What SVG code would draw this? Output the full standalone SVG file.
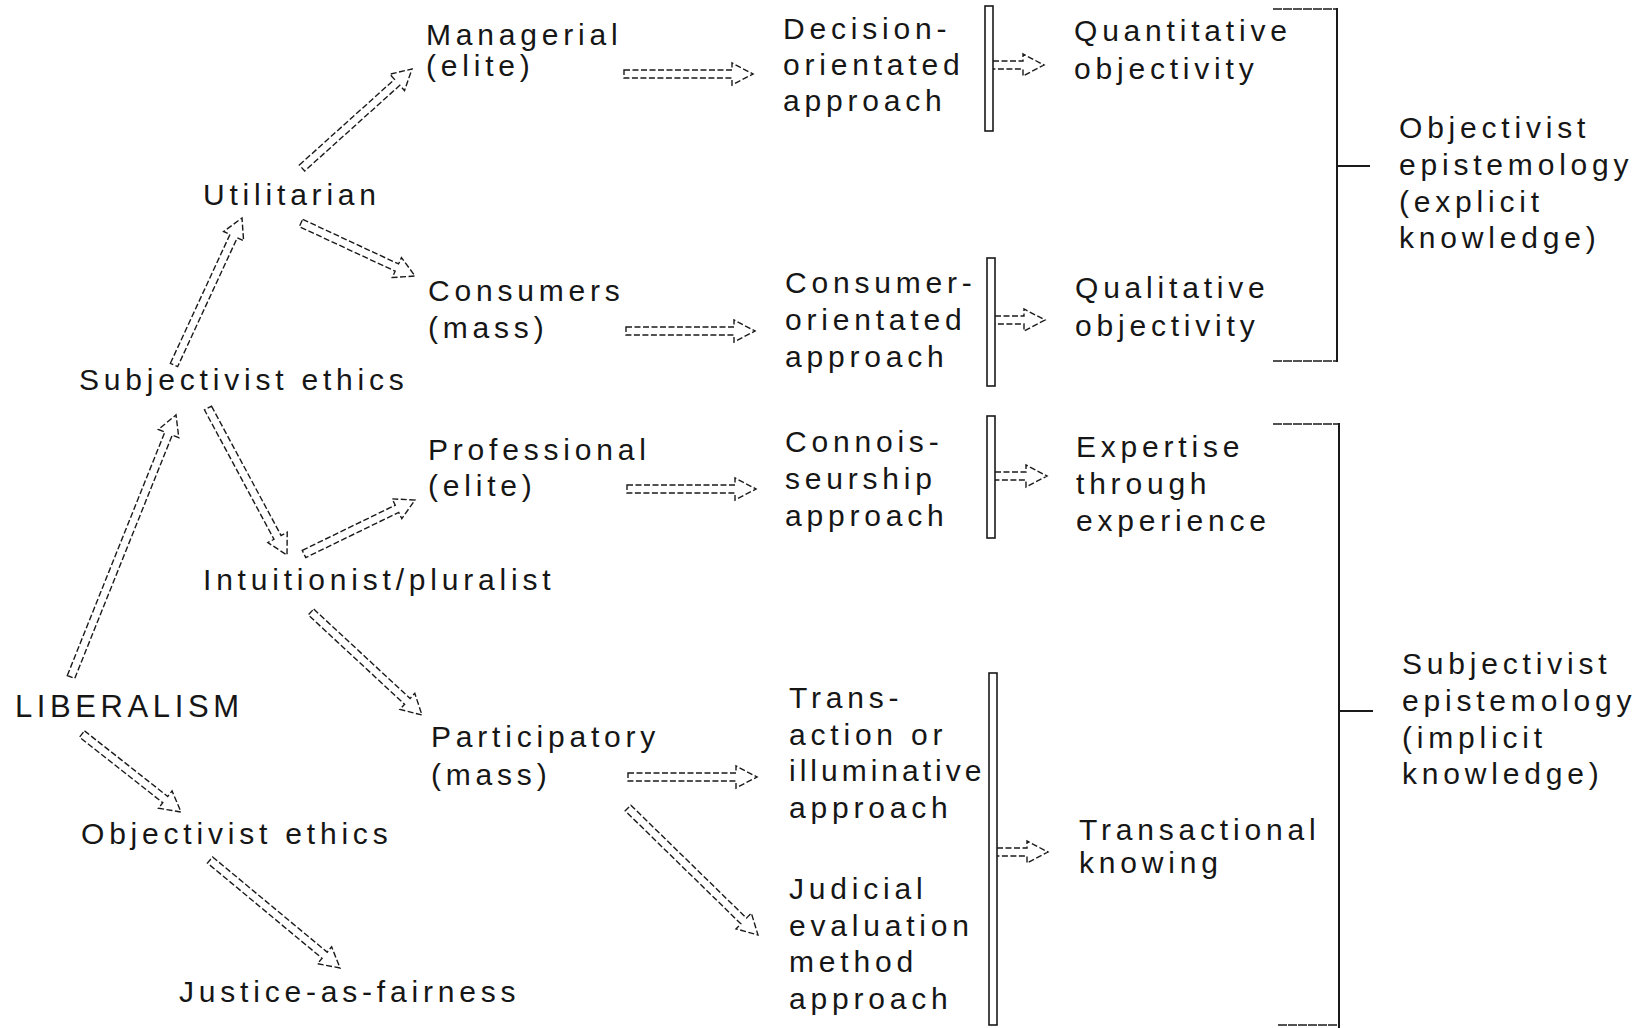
<svg xmlns="http://www.w3.org/2000/svg" width="1649" height="1028" viewBox="0 0 1649 1028">
  <style>
    text { font-family: "Liberation Sans", Arial, sans-serif; font-size: 30px; letter-spacing: 4.8px; fill: #161616; }
    .big { font-size: 31px; letter-spacing: 4.6px; }
    .tight { letter-spacing: 4px; }
    .arr { fill: none; stroke: #1a1a1a; stroke-width: 1.4; stroke-dasharray: 6 2.5; stroke-linejoin: miter; }
    .bar { fill: #fff; stroke: #1a1a1a; stroke-width: 1.6; }
    .brk { fill: none; stroke: #1a1a1a; stroke-width: 2; }
    .edge { fill: none; stroke: #1a1a1a; stroke-width: 1.6; stroke-dasharray: 9 1; }
  </style>
  <rect width="1649" height="1028" fill="#fff"/>

  <!-- nodes -->
  <g id="liberalism"><text class="big" x="15" y="717">LIBERALISM</text></g>
  <g id="subjectivist-ethics"><text x="79" y="390">Subjectivist ethics</text></g>
  <g id="objectivist-ethics"><text x="81" y="844">Objectivist ethics</text></g>
  <g id="utilitarian"><text x="203" y="205">Utilitarian</text></g>
  <g id="intuitionist"><text x="203" y="590">Intuitionist/pluralist</text></g>
  <g id="justice"><text x="179" y="1002">Justice-as-fairness</text></g>
  <g id="managerial"><text x="426" y="45">Managerial</text><text x="426" y="76">(elite)</text></g>
  <g id="consumers"><text x="428" y="301">Consumers</text><text x="428" y="338">(mass)</text></g>
  <g id="professional"><text x="428" y="460">Professional</text><text x="428" y="496">(elite)</text></g>
  <g id="participatory"><text x="431" y="747">Participatory</text><text x="431" y="785">(mass)</text></g>
  <g id="decision"><text x="783" y="39">Decision-</text><text x="783" y="75">orientated</text><text x="783" y="111">approach</text></g>
  <g id="consumer-approach"><text x="785" y="293">Consumer-</text><text x="785" y="330">orientated</text><text x="785" y="367">approach</text></g>
  <g id="connoisseurship"><text x="785" y="452">Connois-</text><text x="785" y="489">seurship</text><text x="785" y="526">approach</text></g>
  <g id="transaction"><text x="789" y="708">Trans-</text><text x="789" y="745">action or</text><text class="tight" x="789" y="781">illuminative</text><text x="789" y="818">approach</text></g>
  <g id="judicial"><text x="789" y="899">Judicial</text><text x="789" y="936">evaluation</text><text x="789" y="972">method</text><text x="789" y="1009">approach</text></g>
  <g id="quantitative"><text x="1074" y="41">Quantitative</text><text x="1074" y="79">objectivity</text></g>
  <g id="qualitative"><text x="1075" y="298">Qualitative</text><text x="1075" y="336">objectivity</text></g>
  <g id="expertise"><text x="1076" y="457">Expertise</text><text x="1076" y="494">through</text><text x="1076" y="531">experience</text></g>
  <g id="transactional"><text x="1079" y="840">Transactional</text><text x="1079" y="873">knowing</text></g>
  <g id="objectivist-epistemology"><text x="1399" y="138">Objectivist</text><text x="1399" y="175">epistemology</text><text x="1399" y="212">(explicit</text><text x="1399" y="248">knowledge)</text></g>
  <g id="subjectivist-epistemology"><text x="1402" y="674">Subjectivist</text><text x="1402" y="711">epistemology</text><text x="1402" y="748">(implicit</text><text x="1402" y="784">knowledge)</text></g>

  <!-- connectors -->
  <g id="connectors">
    <!-- hollow dashed arrows, drawn along +x then placed -->
    <path class="arr" transform="translate(302 168) rotate(-41.99)" d="M0,-4 H128 V-11 L148,0 L128,11 V4 H0 Z"/>
    <path class="arr" transform="translate(301 223) rotate(24.94)" d="M0,-4 H105.7 V-11 L125.7,0 L105.7,11 V4 H0 Z"/>
    <path class="arr" transform="translate(174 365) rotate(-65.18)" d="M0,-4 H142 V-11 L162,0 L142,11 V4 H0 Z"/>
    <path class="arr" transform="translate(71 677) rotate(-68.16)" d="M0,-4 H262.3 V-11 L282.3,0 L262.3,11 V4 H0 Z"/>
    <path class="arr" transform="translate(208 408) rotate(61.75)" d="M0,-4 H146.9 V-11 L166.9,0 L146.9,11 V4 H0 Z"/>
    <path class="arr" transform="translate(304 554) rotate(-25.94)" d="M0,-4 H103.4 V-11 L123.4,0 L103.4,11 V4 H0 Z"/>
    <path class="arr" transform="translate(311 612) rotate(42.86)" d="M0,-4 H131.4 V-11 L151.4,0 L131.4,11 V4 H0 Z"/>
    <path class="arr" transform="translate(82 734) rotate(38.23)" d="M0,-4 H106 V-11 L126,0 L106,11 V4 H0 Z"/>
    <path class="arr" transform="translate(210 860) rotate(39.72)" d="M0,-4 H149 V-11 L169,0 L149,11 V4 H0 Z"/>
    <path class="arr" transform="translate(628 808) rotate(44.33)" d="M0,-4 H161.7 V-11 L181.7,0 L161.7,11 V4 H0 Z"/>

    <!-- horizontal arrows into the approaches -->
    <path class="arr" transform="translate(624 74)" d="M0,-4 H108 V-11 L129,0 L108,11 V4 H0 Z"/>
    <path class="arr" transform="translate(626 331)" d="M0,-4 H108 V-11 L129,0 L108,11 V4 H0 Z"/>
    <path class="arr" transform="translate(627 489)" d="M0,-4 H108 V-11 L129,0 L108,11 V4 H0 Z"/>
    <path class="arr" transform="translate(628 777)" d="M0,-4 H108 V-11 L129,0 L108,11 V4 H0 Z"/>

    <!-- double bars -->
    <rect class="bar" x="985" y="6" width="8" height="125"/>
    <rect class="bar" x="987" y="258" width="8" height="128"/>
    <rect class="bar" x="987" y="416" width="8" height="122"/>
    <rect class="bar" x="989" y="673" width="8" height="352"/>

    <!-- arrows out of the bars -->
    <path class="arr" transform="translate(993 65)" d="M0,-4 H30 V-11 L51,0 L30,11 V4 H0"/>
    <path class="arr" transform="translate(995 320)" d="M0,-4 H29 V-11 L50,0 L29,11 V4 H0"/>
    <path class="arr" transform="translate(995 476)" d="M0,-4 H31 V-11 L52,0 L31,11 V4 H0"/>
    <path class="arr" transform="translate(997 852)" d="M0,-4 H30 V-11 L51,0 L30,11 V4 H0"/>

    <!-- brackets -->
    <path class="edge" d="M1273,9 H1337"/>
    <path class="edge" d="M1273,361 H1337"/>
    <path class="brk" d="M1337,8 V362"/>
    <path class="brk" d="M1338,166 H1370"/>
    <path class="edge" d="M1273,424 H1339"/>
    <path class="edge" d="M1278,1025 H1339"/>
    <path class="brk" d="M1339,423 V1028"/>
    <path class="brk" d="M1340,711 H1373"/>
  </g>
</svg>
